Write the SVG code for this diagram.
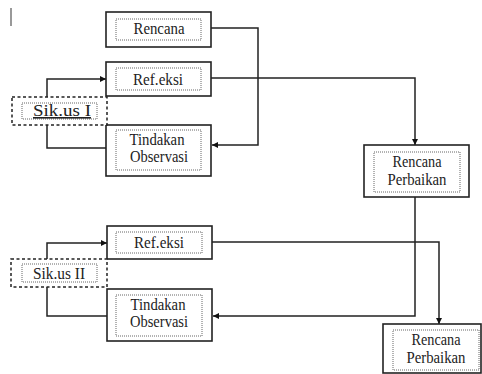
<svg xmlns="http://www.w3.org/2000/svg" width="482" height="374" viewBox="0 0 482 374">
<style>
.box{fill:#fff;stroke:#222;stroke-width:1.6}
.inner{fill:none;stroke:#666;stroke-width:1;stroke-dasharray:1,1}
.dash{fill:#fff;stroke:#222;stroke-width:1.5;stroke-dasharray:3,2.5}
.t{font-family:'Liberation Serif','DejaVu Serif',serif;font-size:16px;fill:#222;text-anchor:middle}
.c{fill:none;stroke:#222;stroke-width:1.5}
</style>
<defs>
<marker id="ah" viewBox="0 0 10 10" refX="10" refY="5" markerWidth="6" markerHeight="6" markerUnits="userSpaceOnUse" orient="auto">
<path d="M0,0 L10,5 L0,10 z" fill="#111"/>
</marker>
</defs>
<line x1="11" y1="8" x2="11" y2="26" stroke="#555" stroke-width="1.2"/>
<g id="connectors">
<path class="c" d="M211,28 H258 V145 H212" marker-end="url(#ah)"/>
<path class="c" d="M211,78 H415 V145" marker-end="url(#ah)"/>
<path class="c" d="M47,97 V79 H106" marker-end="url(#ah)"/>
<path class="c" d="M106,148 H47 V125"/>
<path class="c" d="M415,197 V316 H213" marker-end="url(#ah)"/>
<path class="c" d="M212,242 H439 V324" marker-end="url(#ah)"/>
<path class="c" d="M47,259 V243 H107" marker-end="url(#ah)"/>
<path class="c" d="M107,316 H47 V287"/>
</g>
<g id="rencana">
<rect class="box" x="106" y="12" width="105" height="35"/>
<rect class="inner" x="116" y="19" width="85" height="21"/>
<text class="t" x="159" y="34" textLength="51" lengthAdjust="spacingAndGlyphs">Rencana</text>
</g>
<g id="refleksi1">
<rect class="box" x="106" y="62" width="105" height="34"/>
<rect class="inner" x="116" y="68" width="85" height="22"/>
<text class="t" x="158" y="85" textLength="50" lengthAdjust="spacingAndGlyphs">Ref.eksi</text>
</g>
<g id="tindakan1">
<rect class="box" x="106" y="125" width="105" height="51"/>
<rect class="inner" x="116" y="130" width="85" height="40"/>
<text class="t" x="157" y="145" textLength="55" lengthAdjust="spacingAndGlyphs">Tindakan</text>
<text class="t" x="159" y="162" textLength="58" lengthAdjust="spacingAndGlyphs">Observasi</text>
</g>
<g id="siklus1">
<rect class="dash" x="12" y="97" width="95" height="28"/>
<rect class="inner" x="22" y="103" width="75" height="16"/>
<text class="t" x="62" y="116" textLength="58" lengthAdjust="spacingAndGlyphs" text-decoration="underline">Sik.us I</text>
</g>
<g id="refleksi2">
<rect class="box" x="107" y="226" width="105" height="33"/>
<rect class="inner" x="116" y="232" width="86" height="21"/>
<text class="t" x="159" y="248" textLength="50" lengthAdjust="spacingAndGlyphs">Ref.eksi</text>
</g>
<g id="siklus2">
<rect class="dash" x="11" y="259" width="96" height="28"/>
<rect class="inner" x="22" y="264" width="75" height="18"/>
<text class="t" x="59" y="279" textLength="52" lengthAdjust="spacingAndGlyphs">Sik.us II</text>
</g>
<g id="tindakan2">
<rect class="box" x="107" y="289" width="105" height="52"/>
<rect class="inner" x="116" y="295" width="86" height="41"/>
<text class="t" x="158" y="310" textLength="55" lengthAdjust="spacingAndGlyphs">Tindakan</text>
<text class="t" x="159" y="327" textLength="58" lengthAdjust="spacingAndGlyphs">Observasi</text>
</g>
<g id="perbaikan1">
<rect class="box" x="364" y="145" width="105" height="52"/>
<rect class="inner" x="374" y="152" width="86" height="40"/>
<text class="t" x="417" y="167" textLength="49" lengthAdjust="spacingAndGlyphs">Rencana</text>
<text class="t" x="417" y="185" textLength="59" lengthAdjust="spacingAndGlyphs">Perbaikan</text>
</g>
<g id="perbaikan2">
<rect class="box" x="383" y="324" width="98" height="49"/>
<rect class="inner" x="393" y="330" width="86" height="40"/>
<text class="t" x="436" y="345" textLength="49" lengthAdjust="spacingAndGlyphs">Rencana</text>
<text class="t" x="436" y="363" textLength="59" lengthAdjust="spacingAndGlyphs">Perbaikan</text>
</g>
</svg>
